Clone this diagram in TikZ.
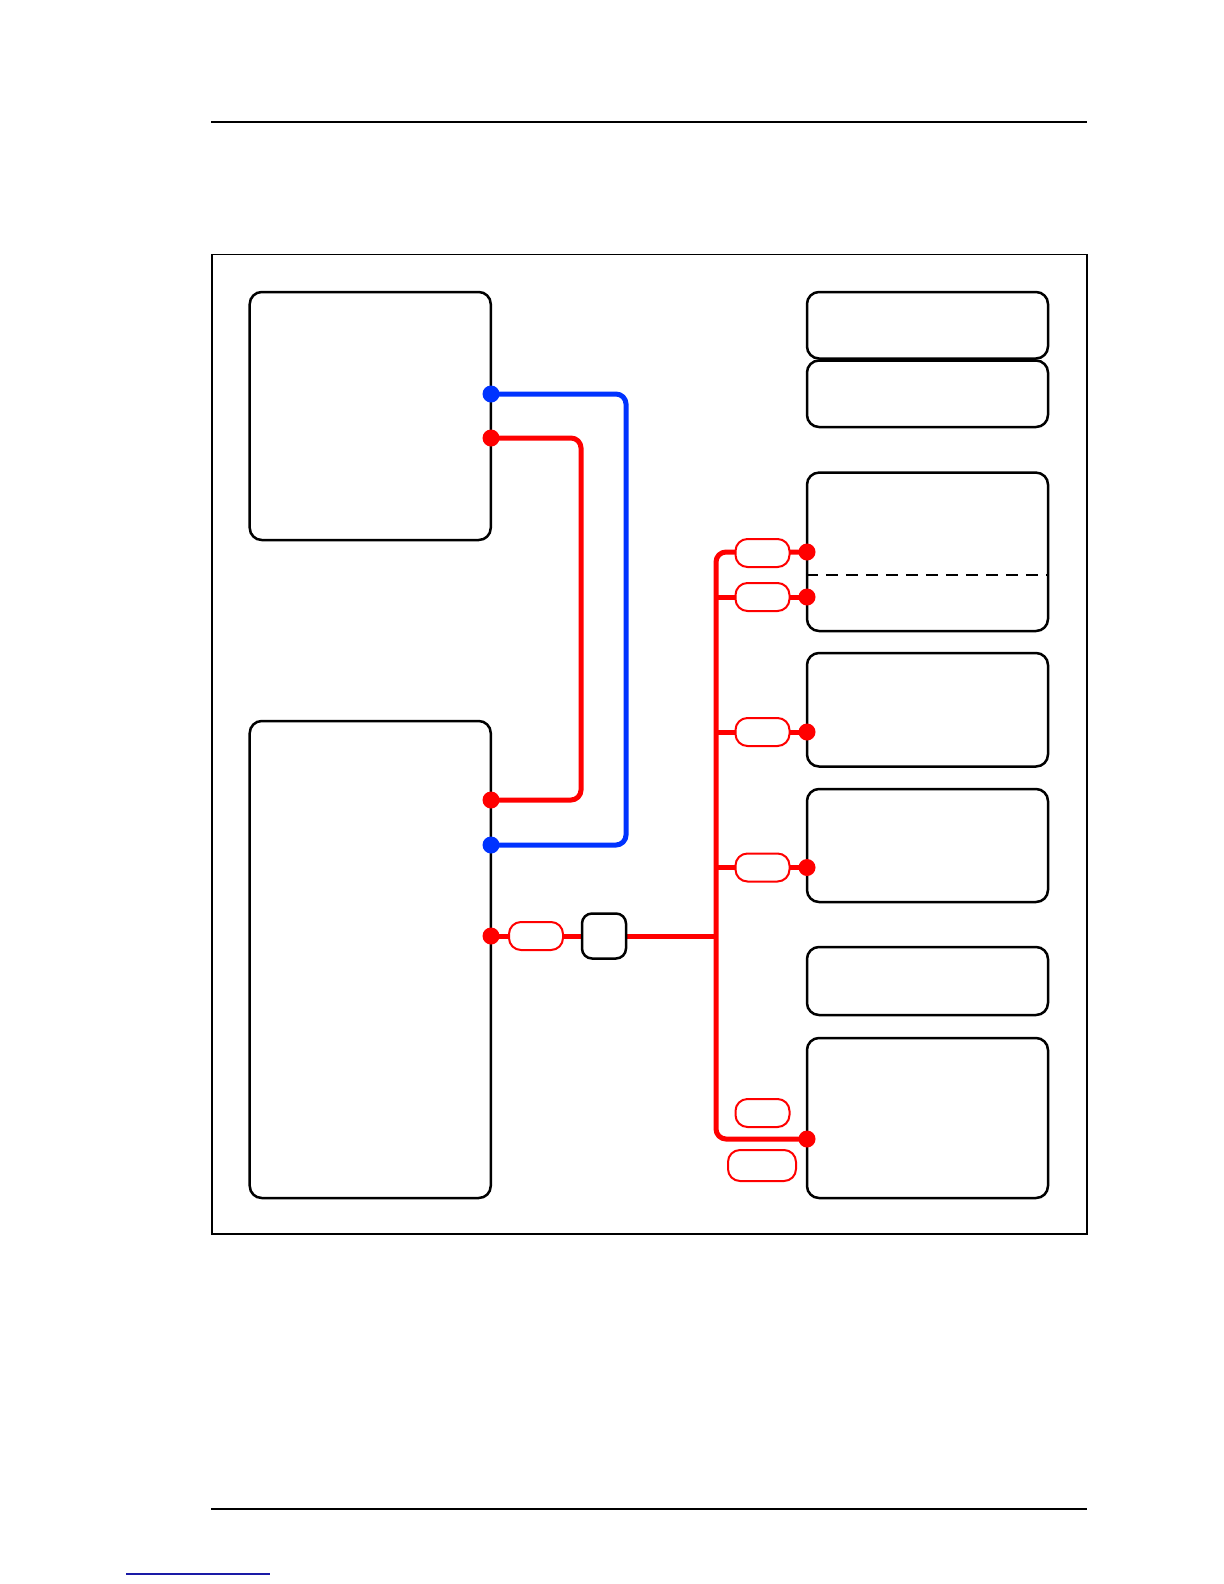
\documentclass[tikz,border=0pt]{standalone}
\usetikzlibrary{backgrounds,positioning}
\definecolor{Wire}{HTML}{FF0000}
\definecolor{Link}{HTML}{0033FF}
\definecolor{Ref}{HTML}{1A1AA6}
\tikzset{
  unit/.style={
    rounded corners=6bp, draw=black, line width=1.25bp, fill=white,
    minimum width=120.5bp, inner sep=0pt
  },
  plug/.style={
    rounded corners=6bp, draw=Wire, line width=1bp, fill=white,
    minimum width=27bp, minimum height=14bp, inner sep=0pt
  },
  switchbox/.style={
    rounded corners=5bp, draw=black, line width=1.25bp, fill=white,
    minimum width=22bp, minimum height=22.5bp, inner sep=0pt
  },
  rdot/.style={circle, fill=Wire, minimum size=8.5bp, inner sep=0pt},
  bdot/.style={circle, fill=Link, minimum size=8.5bp, inner sep=0pt},
  redwire/.style={draw=Wire, line width=2.5bp, rounded corners=5bp},
  bluewire/.style={draw=Link, line width=2.5bp, rounded corners=5bp}
}

\begin{document}
\begin{tikzpicture}[x=0.5bp,y=-0.5bp]
    \useasboundingbox (0,0) rectangle (1224,1584);
    % page rules and frame
    \draw[line width=1bp] (211,122) -- (1087,122);
    \draw[line width=1bp] (211,1509) -- (1087,1509);
    \draw[line width=0.8bp,Ref] (126,1574) -- (270,1574);
    \draw[line width=0.6bp] (212,254.5) rectangle (1087,1234);
    % left units
    \node[unit,minimum height=124bp] (upper) at (370.25,416) {};
    \node[unit,minimum height=238.5bp] (lower) at (370.25,959.5) {};
    % right units
    \node[unit,minimum height=33.25bp] (r1) at (927.5,325.25) {};
    \node[unit,minimum height=33.25bp] (r2) at (927.5,393.75) {};
    \node[unit,minimum height=79.2bp] (r3) at (927.5,551.8) {};
    \node[unit,minimum height=56.75bp] (r4) at (927.5,709.75) {};
    \node[unit,minimum height=56.5bp] (r5) at (927.5,845.5) {};
    \node[unit,minimum height=34bp] (r6) at (927.5,981) {};
    \node[unit,minimum height=80bp] (r7) at (927.5,1118) {};
    \draw[dashed,line width=1bp,dash pattern=on 6bp off 4bp] (r3.west |- 0,574.6) -- (r3.east |- 0,574.6);
    % ports
    \node[bdot] (ub) at (491,394) {};
    \node[rdot] (ur) at (491,438) {};
    \node[rdot] (lr) at (491,800) {};
    \node[bdot] (lb) at (491,845) {};
    \node[rdot] (lo) at (491,936) {};
    \node[rdot] (d1) at (807,552) {};
    \node[rdot] (d2) at (807,597) {};
    \node[rdot] (d3) at (807,732) {};
    \node[rdot] (d4) at (807,867.5) {};
    \node[rdot] (d5) at (807,1139) {};
    % plugs and switch
    \node[plug] (p0) at (536,936) {};
    \node[switchbox] (sw) at (604,936) {};
    \node[plug] (p1) at (762.5,553) {};
    \node[plug] (p2) at (762.5,597) {};
    \node[plug] (p3) at (762.5,732) {};
    \node[plug] (p4) at (762.5,867.5) {};
    \node[plug] (p5) at (762.5,1113) {};
    \node[plug,minimum width=34bp,minimum height=15.5bp] (p6) at (762,1165.5) {};
    \coordinate (bx) at (626,0);
    \coordinate (rx) at (581,0);
    \coordinate (bus) at (716,0);
    \begin{scope}[on background layer]
      \draw[bluewire] (ub.center) -- (ub.center -| bx) -- (lb.center -| bx) -- (lb.center);
      \draw[redwire] (ur.center) -- (ur.center -| rx) -- (lr.center -| rx) -- (lr.center);
      \draw[redwire,rounded corners=0pt] (lo.center) -- (lo.center -| bus);
      \draw[redwire] (d1.center) -- (d1.center -| bus) -- (d5.center -| bus) -- (d5.center);
      \draw[redwire,rounded corners=0pt] (d2.center -| bus) -- (d2.center);
      \draw[redwire,rounded corners=0pt] (d3.center -| bus) -- (d3.center);
      \draw[redwire,rounded corners=0pt] (d4.center -| bus) -- (d4.center);
    \end{scope}
  \end{tikzpicture}
\end{document}
